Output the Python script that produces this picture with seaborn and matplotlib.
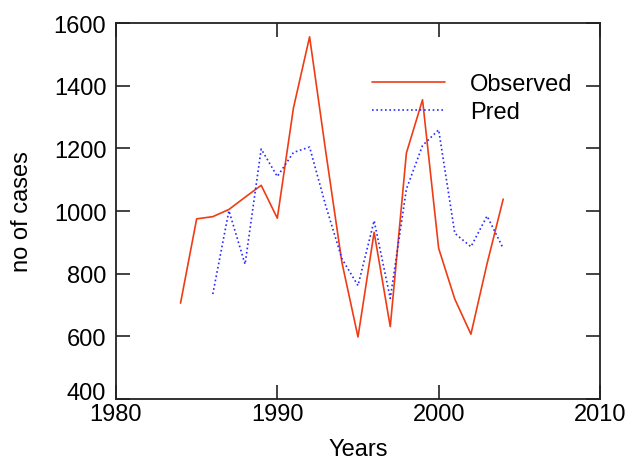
import numpy as np
import pandas as pd
import seaborn as sns
import matplotlib.pyplot as plt

# values
obs_years = list(range(1984, 2005))
observed = [706, 975, 982, 1005, 1044, 1082, 977, 1329, 1556, 1190, 837,
            598, 932, 631, 1185, 1355, 881, 719, 607, 832, 1038]
pred_years = list(range(1986, 2005))
pred = [735, 1001, 830, 1198, 1110, 1187, 1204, 1017, 848, 762, 969,
        721, 1070, 1209, 1259, 929, 886, 984, 881]

x_ticks = [1980, 1990, 2000, 2010]
y_ticks = [400, 600, 800, 1000, 1200, 1400, 1600]

df = pd.concat([
    pd.DataFrame({'year': obs_years, 'cases': observed, 'series': 'Observed'}),
    pd.DataFrame({'year': pred_years, 'cases': pred, 'series': 'Pred'}),
], ignore_index=True)

sns.set_style('white')
plt.rcParams['font.family'] = ['Liberation Sans', 'DejaVu Sans']
plt.rcParams['text.color'] = 'black'

fig = plt.figure(figsize=(6.28, 4.6), dpi=100)
ax = fig.add_axes([0.1847, 0.1304, 0.7707, 0.8174])

sns.lineplot(data=df, x='year', y='cases', hue='series', style='series',
             palette={'Observed': '#f03c14', 'Pred': '#2b2bff'},
             dashes={'Observed': '', 'Pred': (1, 1.6)},
             linewidth=1.2, ax=ax)

ax.set_xlim(1980, 2010)
ax.set_ylim(400, 1600)
ax.set_xticks(x_ticks)
ax.set_yticks(y_ticks)
ax.tick_params(direction='in', length=10, width=1.2, top=True, right=True,
               bottom=True, left=True, labelsize=17, colors='#222222',
               labelcolor='black')
ax.tick_params(axis='x', pad=3)
ax.tick_params(axis='y', pad=7)
for s in ax.spines.values():
    s.set_color('#222222')
    s.set_linewidth(1.3)
# lift the bottom y label a bit so it clears 1980, like the original
ax.get_yticklabels()[0].set_va('baseline')

ax.set_xlabel('Years', fontsize=17, labelpad=9, color='black')
ax.set_ylabel('no of cases', fontsize=17, labelpad=15, color='black')

leg = ax.legend(loc='upper left', bbox_to_anchor=(0.505, 0.898), frameon=False,
                fontsize=17, handlelength=3.1, handletextpad=1.05,
                labelspacing=0.25, borderpad=0)
for t in leg.get_texts():
    t.set_color('black')

fig.savefig('out.png', dpi=100)
